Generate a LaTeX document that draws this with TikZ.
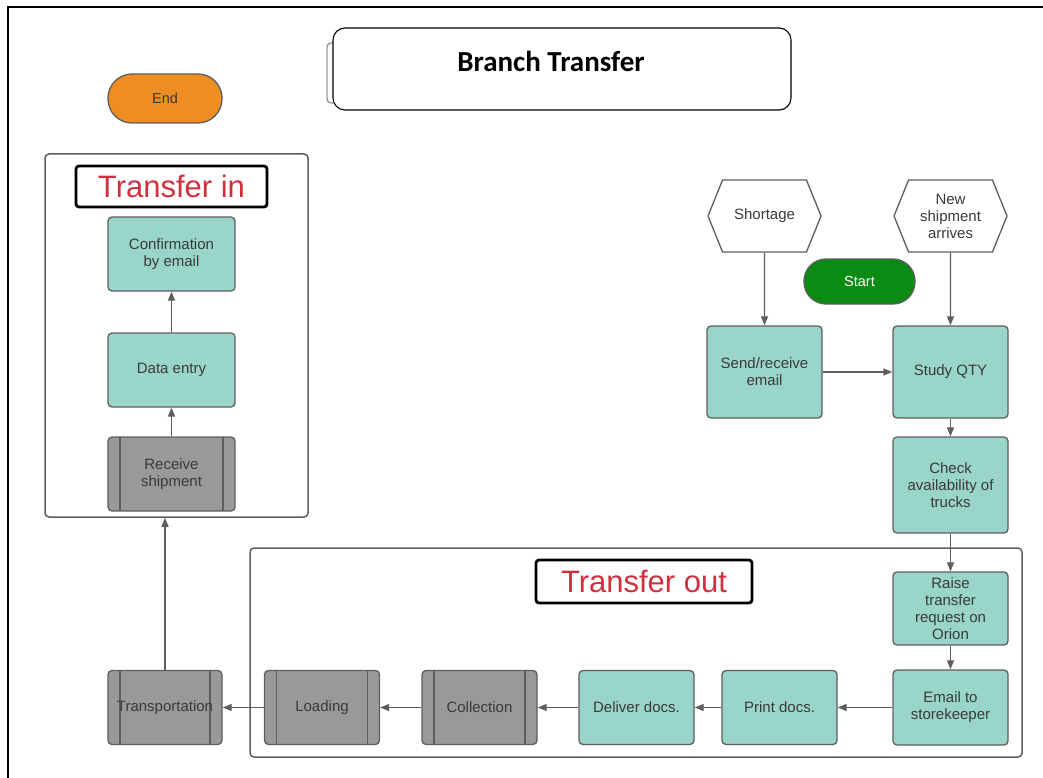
\documentclass[tikz,border=0pt]{standalone}
\usepackage{fontspec}
\setmainfont{Liberation Sans}
\newfontfamily\titlefont{Carlito}
\usetikzlibrary{arrows.meta,shapes.symbols}

\definecolor{teal}{HTML}{99D5C9}
\definecolor{boxgray}{HTML}{999999}
\definecolor{edge}{HTML}{5E5E5E}
\definecolor{txt}{HTML}{3A3A3A}
\definecolor{endorange}{HTML}{EE8D21}
\definecolor{startgreen}{HTML}{0B8B14}
\definecolor{labelred}{HTML}{D1303E}

\tikzset{
  proc/.style={draw=edge, line width=1.3pt, fill=teal, rounded corners=4pt,
    minimum width=115pt, minimum height=74pt, text=txt, align=center,
    font=\fontsize{15}{17}\selectfont, inner sep=1pt},
  subproc/.style={proc, fill=boxgray,
    path picture={
      \draw[edge, line width=1.3pt]
        ([xshift=12pt]path picture bounding box.north west) --
        ([xshift=12pt]path picture bounding box.south west)
        ([xshift=-12pt]path picture bounding box.north east) --
        ([xshift=-12pt]path picture bounding box.south east);}},
  event/.style={draw=edge, line width=1.3pt, fill=white, shape=signal,
    signal to=west and east, signal pointer angle=136,
    minimum width=113pt, minimum height=72pt, inner sep=0pt,
    text=txt, align=center, font=\fontsize{15}{17}\selectfont},
  terminal/.style={draw=edge, line width=1.3pt,
    font=\fontsize{14.5}{16}\selectfont},
  group/.style={draw=edge, line width=1.5pt, rounded corners=4pt},
  grouplabel/.style={draw=black, line width=2.8pt, rounded corners=3pt,
    text=labelred, font=\fontsize{31}{33}\selectfont, inner sep=0pt},
  flow/.style={draw=edge, line width=1.2pt,
    -{Triangle[length=9pt,width=7pt]}},
}

\begin{document}
\begin{tikzpicture}[x=1pt, y=-1pt]
  \useasboundingbox (0,0) rectangle (1043,778);
  % page frame, open to the right and bottom
  \begin{scope}
    \clip (0,0) rectangle (1043,778);
    \draw[black, line width=2.2pt] (8,7) rectangle (1080,820);
  \end{scope}

  % title card with its stacked back sheet
  \draw[gray!80, line width=1.4pt, rounded corners=4pt, fill=white]
    (327,43) rectangle (700,103);
  \node[draw=black, line width=1.1pt, fill=white, rounded corners=12pt,
        minimum width=458pt, minimum height=82pt] (title) at (562,69) {};
  \node[font=\titlefont\bfseries\fontsize{29}{32}\selectfont] (titletext)
    at (551,61) {Branch Transfer};

  % terminals
  \node[terminal, fill=endorange, text=txt, minimum width=114pt,
        minimum height=49pt, rounded corners=24pt] (end) at (165,98.5) {End};
  \node[terminal, fill=startgreen, text=white, minimum width=111pt,
        minimum height=45pt, rounded corners=22pt] (start) at (859.5,281.5) {Start};

  % Transfer in group
  \node[group, minimum width=263pt, minimum height=363pt] (tin) at (176.5,335.5) {};
  \node[grouplabel, minimum width=191pt, minimum height=41pt] (tinlabel)
    at (171.5,186.5) {Transfer in};
  \node[proc, minimum width=127pt] (confirm) at (171.5,254) {Confirmation\\by email};
  \node[proc, minimum width=127pt] (dataentry) at (171.5,370) {Data entry};
  \node[subproc, minimum width=127pt] (receive) at (171.5,474) {Receive\\shipment};

  % Transfer out group
  \node[group, minimum width=772pt, minimum height=209pt] (tout) at (636,652.5) {};
  \node[grouplabel, minimum width=216pt, minimum height=43pt] (toutlabel)
    at (644,581.5) {Transfer out};

  % triggers
  \node[event] (shortage) at (764.5,216) {Shortage};
  \node[event] (newship) at (950.5,216) {New\\shipment\\arrives};

  % main flow
  \node[proc, minimum height=92pt] (sendrecv) at (764.5,372) {Send/receive\\email};
  \node[proc, minimum height=92pt] (study) at (950.5,372) {Study QTY};
  \node[proc, minimum height=96pt] (check) at (950.5,485) {Check\\availability of\\trucks};
  \node[proc, minimum height=73pt] (raise) at (950.5,608.5) {Raise\\transfer\\request on\\Orion};
  \node[proc, minimum height=75pt] (email) at (950.5,707.5) {Email to\\storekeeper};
  \node[proc] (print) at (779.5,707.5) {Print docs.};
  \node[proc] (deliver) at (636.5,707.5) {Deliver docs.};
  \node[subproc] (collection) at (479.5,707.5) {Collection};
  \node[subproc] (loading) at (322,707.5) {Loading};
  \node[subproc, minimum width=114pt] (transport) at (165,707.5) {Transportation};

  % connectors
  \draw[flow] (shortage) -- (sendrecv);
  \draw[flow] (newship) -- (study);
  \draw[flow] (sendrecv) -- (study);
  \draw[flow] (study) -- (check);
  \draw[flow] (check) -- (raise);
  \draw[flow] (raise) -- (email);
  \draw[flow] (email) -- (print);
  \draw[flow] (print) -- (deliver);
  \draw[flow] (deliver) -- (collection);
  \draw[flow] (collection) -- (loading);
  \draw[flow] (loading) -- (transport);
  \draw[flow] (transport.north) -- (transport.north |- tin.south);
  \draw[flow] (receive) -- (dataentry);
  \draw[flow] (dataentry) -- (confirm);
\end{tikzpicture}
\end{document}
